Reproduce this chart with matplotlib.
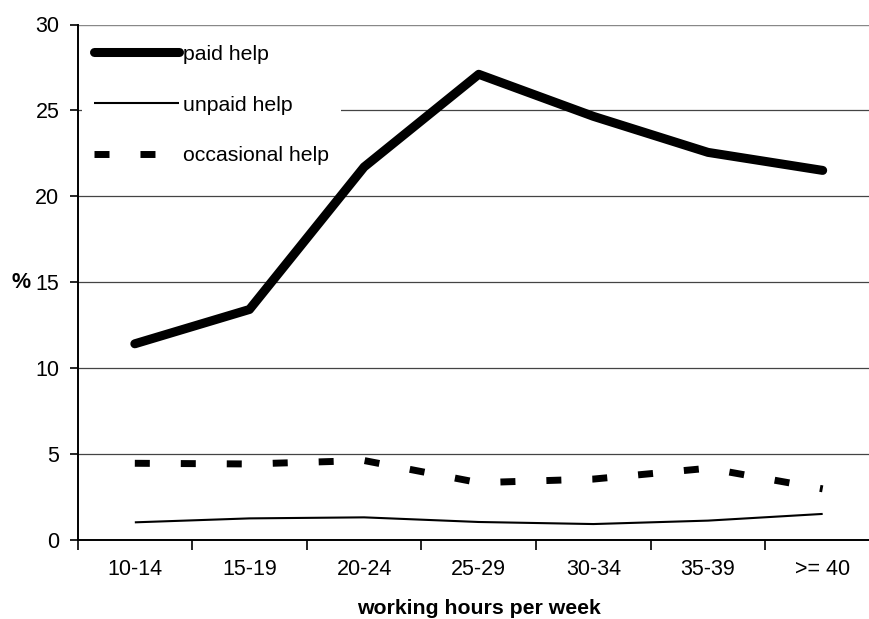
import matplotlib
matplotlib.use("Agg")
import matplotlib.pyplot as plt

categories = ["10-14", "15-19", "20-24", "25-29", "30-34", "35-39", ">= 40"]
paid_help = [11.4, 13.4, 21.7, 27.1, 24.65, 22.55, 21.5]
unpaid_help = [1.0, 1.23, 1.29, 1.02, 0.9, 1.1, 1.49]
occasional_help = [4.44, 4.4, 4.6, 3.31, 3.52, 4.15, 2.95]
y_ticks = [0, 5, 10, 15, 20, 25, 30]

plt.rcParams['font.family'] = ['Liberation Sans', 'DejaVu Sans']

W, H = 869, 619
fig = plt.figure(figsize=(W / 100, H / 100), dpi=100)
left, right, bottom, top = 77.5, 880.0, 539.5, 24.5
ax = fig.add_axes([left / W, (H - bottom) / H, (right - left) / W, (bottom - top) / H])

x = list(range(len(categories)))
ax.plot(x, paid_help, color='black', lw=6.5, solid_capstyle='round',
        solid_joinstyle='round', label='paid help', zorder=3)
ax.plot(x, unpaid_help, color='black', lw=1.5, solid_capstyle='butt',
        label='unpaid help', zorder=3)
ax.plot(x, occasional_help, color='black', lw=5.0, dashes=(2.16, 4.46),
        dash_capstyle='butt', label='occasional help', zorder=3)

ax.set_xlim(-0.5, len(categories) - 0.5)
ax.set_ylim(0, 30)
ax.set_yticks(y_ticks)
ax.set_yticklabels([str(t) for t in y_ticks])
ax.set_xticks(x)
ax.set_xticklabels(categories)
ax.set_xticks([i - 0.5 for i in range(len(categories) + 1)], minor=True)
ax.tick_params(axis='x', which='major', length=0, pad=14, labelsize=15.5)
ax.tick_params(axis='x', which='minor', length=7, width=1.2, direction='out')
ax.tick_params(axis='y', length=6, width=1.2, pad=7, labelsize=15.5, direction='out')

for t in y_ticks[1:]:
    ax.axhline(t, color='#888888' if t == 30 else '#444444', lw=1.0 if t == 30 else 0.9, zorder=1)

for s in ['top', 'right']:
    ax.spines[s].set_visible(False)
for s in ['left', 'bottom']:
    ax.spines[s].set_linewidth(1.4)
    ax.spines[s].set_color('black')

ax.set_xlabel('working hours per week', fontsize=15.3, fontweight='bold', va='center')
ax.xaxis.set_label_coords(0.5, (bottom - 608) / (bottom - top))
ax.set_ylabel('%', fontsize=15.5, fontweight='bold', rotation=0, va='center', ha='center')
ax.yaxis.set_label_coords((21 - left) / (right - left), 0.5)

leg = ax.legend(loc='upper left', bbox_to_anchor=((82 - left) / (right - left), (bottom - 33) / (bottom - top)),
                borderaxespad=0, frameon=True, fancybox=False, framealpha=1,
                edgecolor='white', facecolor='white', fontsize=15.3,
                handlelength=4.0, handletextpad=0.2, labelspacing=1.5, borderpad=0.55)
leg.get_frame().set_linewidth(0)

fig.savefig('out.png', dpi=100)
